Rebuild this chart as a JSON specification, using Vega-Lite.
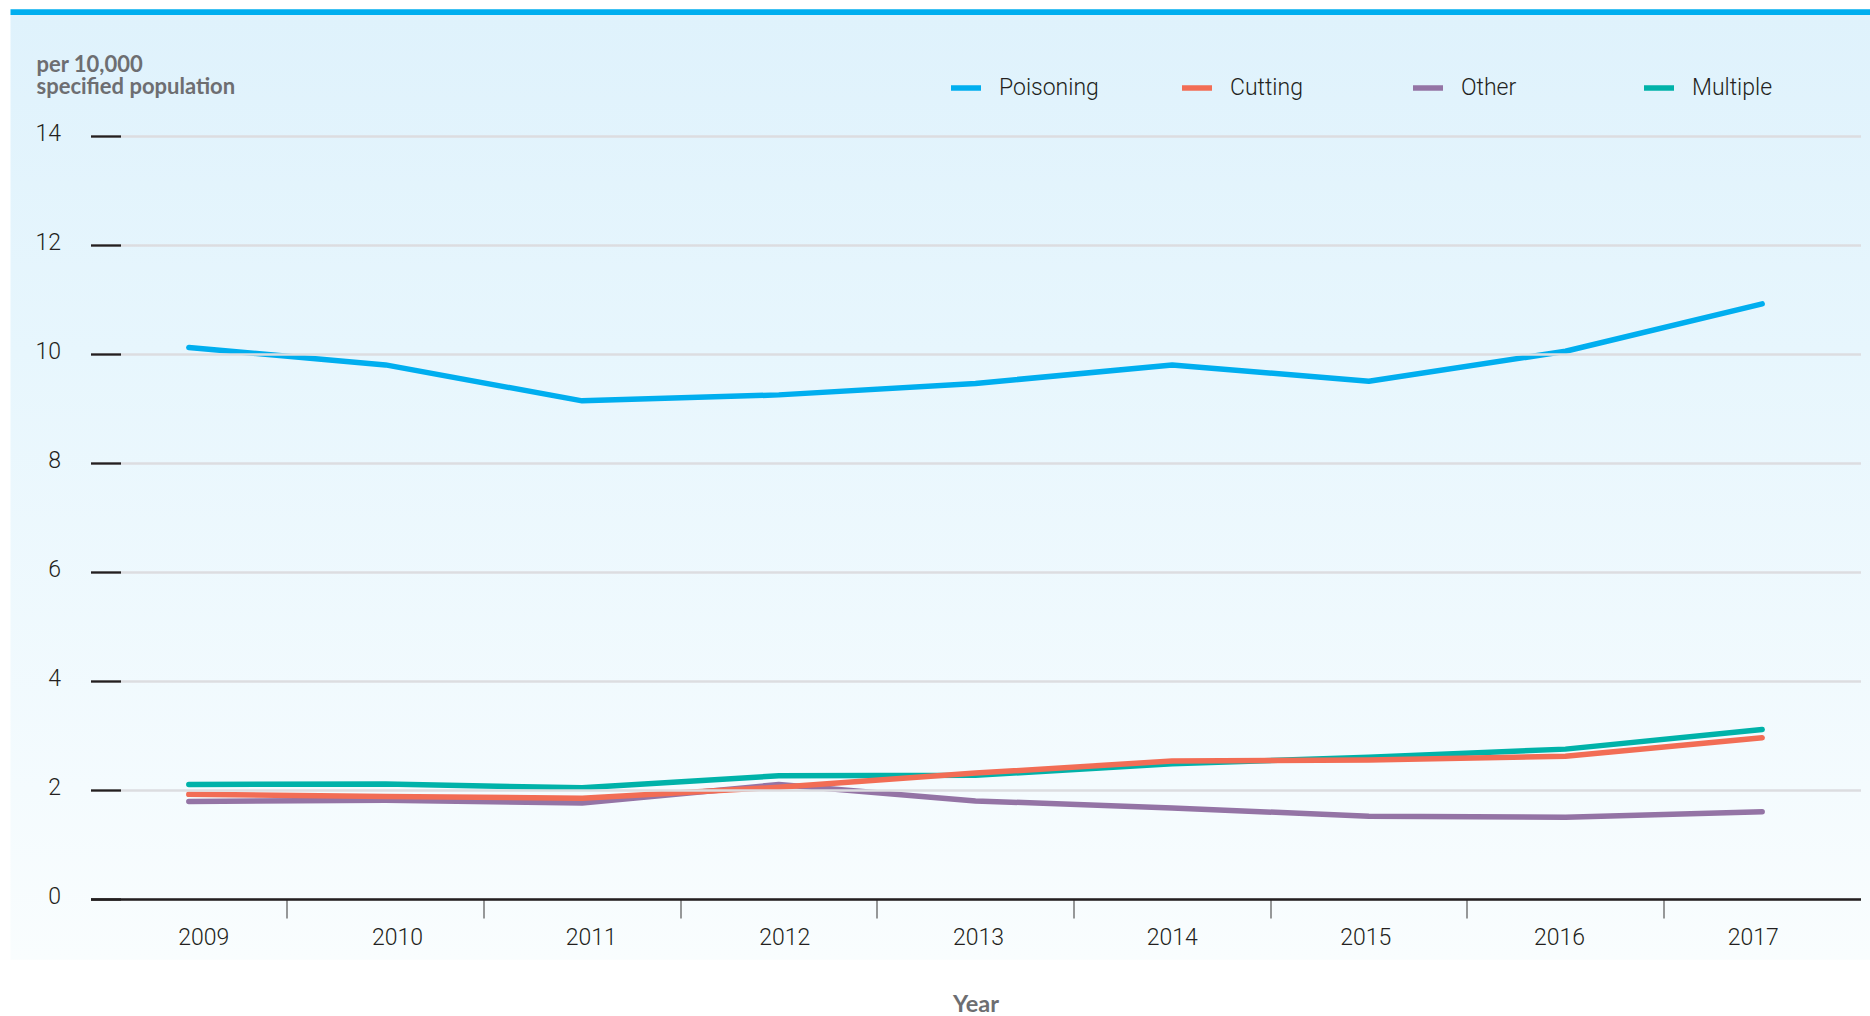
{
  "$schema": "https://vega.github.io/schema/vega-lite/v6.json",
  "width": 1770,
  "height": 763,
  "autosize": "none",
  "padding": {"left": 90.5, "top": 136, "right": 9.5, "bottom": 117},
  "background": "#ffffff",
  "config": {
    "view": {"stroke": null},
    "font": "Roboto"
  },
  "layer": [
    {
      "data": {"values": [{"Panel": "background"}]},
      "mark": {
        "type": "rect",
        "color": {"gradient": "linear", "x1": 0, "y1": 0, "x2": 0, "y2": 1,
          "stops": [
            {"offset": 0, "color": "#00aeef"},
            {"offset": 0.0056, "color": "#00aeef"},
            {"offset": 0.0062, "color": "#dff2fc"},
            {"offset": 0.36, "color": "#e7f6fd"},
            {"offset": 0.82, "color": "#f4fbfe"},
            {"offset": 1, "color": "#f9fdfe"}
          ]}
      },
      "encoding": {
        "x": {"datum": -0.0452, "type": "quantitative", "scale": {"domain": [0, 1], "nice": false, "zero": false}, "axis": null},
        "x2": {"datum": 1.01},
        "y": {"datum": 16.325, "type": "quantitative"},
        "y2": {"datum": -1.114}
      }
    },
    {
      "data": {
        "values": [
          {"Year": 2009, "Method": "Poisoning", "Rate": 10.12},
          {"Year": 2010, "Method": "Poisoning", "Rate": 9.80},
          {"Year": 2011, "Method": "Poisoning", "Rate": 9.14},
          {"Year": 2012, "Method": "Poisoning", "Rate": 9.25},
          {"Year": 2013, "Method": "Poisoning", "Rate": 9.46},
          {"Year": 2014, "Method": "Poisoning", "Rate": 9.80},
          {"Year": 2015, "Method": "Poisoning", "Rate": 9.50},
          {"Year": 2016, "Method": "Poisoning", "Rate": 10.05},
          {"Year": 2017, "Method": "Poisoning", "Rate": 10.92},
          {"Year": 2009, "Method": "Other", "Rate": 1.79},
          {"Year": 2010, "Method": "Other", "Rate": 1.81},
          {"Year": 2011, "Method": "Other", "Rate": 1.76},
          {"Year": 2012, "Method": "Other", "Rate": 2.10},
          {"Year": 2013, "Method": "Other", "Rate": 1.80},
          {"Year": 2014, "Method": "Other", "Rate": 1.67},
          {"Year": 2015, "Method": "Other", "Rate": 1.52},
          {"Year": 2016, "Method": "Other", "Rate": 1.50},
          {"Year": 2017, "Method": "Other", "Rate": 1.60},
          {"Year": 2009, "Method": "Multiple", "Rate": 2.10},
          {"Year": 2010, "Method": "Multiple", "Rate": 2.11},
          {"Year": 2011, "Method": "Multiple", "Rate": 2.04},
          {"Year": 2012, "Method": "Multiple", "Rate": 2.26},
          {"Year": 2013, "Method": "Multiple", "Rate": 2.27},
          {"Year": 2014, "Method": "Multiple", "Rate": 2.48},
          {"Year": 2015, "Method": "Multiple", "Rate": 2.60},
          {"Year": 2016, "Method": "Multiple", "Rate": 2.75},
          {"Year": 2017, "Method": "Multiple", "Rate": 3.11},
          {"Year": 2009, "Method": "Cutting", "Rate": 1.92},
          {"Year": 2010, "Method": "Cutting", "Rate": 1.88},
          {"Year": 2011, "Method": "Cutting", "Rate": 1.85},
          {"Year": 2012, "Method": "Cutting", "Rate": 2.05},
          {"Year": 2013, "Method": "Cutting", "Rate": 2.31},
          {"Year": 2014, "Method": "Cutting", "Rate": 2.53},
          {"Year": 2015, "Method": "Cutting", "Rate": 2.55},
          {"Year": 2016, "Method": "Cutting", "Rate": 2.62},
          {"Year": 2017, "Method": "Cutting", "Rate": 2.96}
        ]
      },
      "mark": {"type": "line", "strokeWidth": 5.5, "strokeCap": "round", "strokeJoin": "round"},
      "encoding": {
        "x": {
          "field": "Year", "type": "ordinal",
          "scale": {"type": "band", "paddingInner": 0, "paddingOuter": 0},
          "axis": {
            "orient": "bottom", "zindex": 1,
            "domainColor": "#231f20", "domainWidth": 2.5,
            "ticks": true, "bandPosition": 0, "tickExtra": false,
            "tickColor": {"condition": {"test": "datum.value == 2009", "value": "transparent"}, "value": "#555555"},
            "tickWidth": 1.2, "tickSize": 19,
            "labelAngle": 0, "labelFont": "Roboto", "labelFontWeight": 300, "labelFontSize": 23,
            "labelColor": "#231f20", "labelPadding": 8, "labelBaseline": "top",
            "labelOffset": {"expr": "15 - 24 * datum.index"},
            "grid": false,
            "title": "Year", "titleFont": "Lato", "titleFontWeight": "bold", "titleFontSize": 23.5,
            "titleColor": "#6d6e71", "titleY": 112, "titleBaseline": "alphabetic"
          }
        },
        "y": {
          "field": "Rate", "type": "quantitative",
          "scale": {"domain": [0, 14], "nice": false},
          "axis": {
            "zindex": 1,
            "values": [0, 2, 4, 6, 8, 10, 12, 14], "format": "d",
            "domain": false, "grid": true, "gridColor": "#dcdde0", "gridWidth": 2.3,
            "tickColor": "#231f20", "tickWidth": 2.3, "tickSize": -30,
            "labelPadding": 60, "labelFont": "Roboto", "labelFontWeight": 300, "labelFontSize": 23,
            "labelColor": "#231f20", "labelBaseline": "middle", "labelOffset": -3,
            "title": ["per 10,000", "specified population"],
            "titleAngle": 0, "titleX": -54.5, "titleY": -65, "titleAlign": "left",
            "titleBaseline": "alphabetic", "titleFont": "Lato", "titleFontWeight": "bold",
            "titleFontSize": 22, "titleColor": "#6d6e71", "titleLineHeight": 22.5
          }
        },
        "color": {
          "field": "Method", "type": "nominal",
          "scale": {"domain": ["Poisoning", "Cutting", "Other", "Multiple"],
                    "range": ["#00aeef", "#f26d55", "#9474a5", "#00b2a9"]},
          "legend": {
            "orient": "none", "legendX": 857.5, "legendY": -66,
            "direction": "horizontal", "columns": 4, "gridAlign": "all", "columnPadding": 72,
            "title": null, "symbolType": "stroke", "symbolSize": 900, "symbolStrokeWidth": 5.5,
            "labelFont": "Roboto", "labelFontWeight": 300, "labelFontSize": 23,
            "labelColor": "#231f20", "labelOffset": 15, "padding": 0
          }
        }
      }
    }
  ],
  "resolve": {"scale": {"x": "independent"}, "axis": {"x": "independent"}}
}
